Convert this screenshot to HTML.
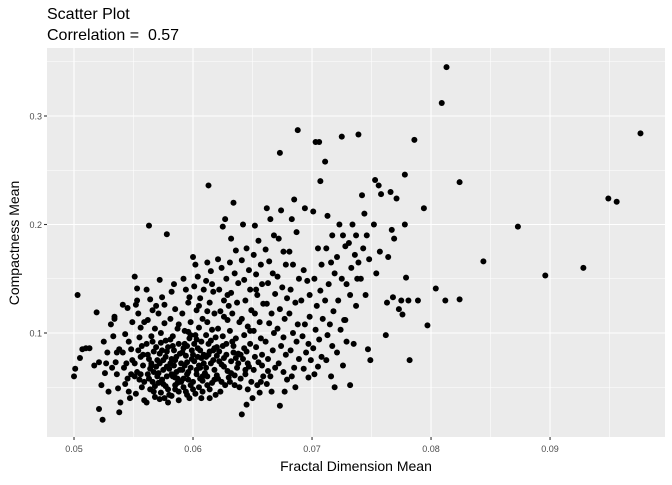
<!DOCTYPE html>
<html><head><meta charset="utf-8"><style>
body{margin:0;background:#fff;}
svg text{font-family:"Liberation Sans",sans-serif;}
</style></head><body>
<svg id="chart" width="672" height="480">
<text x="47" y="19" font-size="16" fill="#000">Scatter Plot</text>
<text x="47" y="40" font-size="16" fill="#000" xml:space="preserve">Correlation =  0.57</text>
<rect x="47" y="48" width="618" height="389" fill="#EBEBEB"/>
<g id="grid"></g>
<g id="pts"></g>
<g id="axes"></g>
<text x="356" y="471" font-size="14" text-anchor="middle" fill="#000">Fractal Dimension Mean</text>
<text transform="translate(19,243) rotate(-90)" font-size="14" text-anchor="middle" fill="#000">Compactness Mean</text>
</svg>
<script>
const xTicks=[0.05,0.06,0.07,0.08,0.09];
const xTickLabels=["0.05","0.06","0.07","0.08","0.09"];
const yTicks=[0.1,0.2,0.3];
const yTickLabels=["0.1","0.2","0.3"];
const xMinor=[0.055,0.065,0.075,0.085,0.095];
const yMinor=[0.05,0.15,0.25,0.35];
const fractalDim=[];const compactness=[];
const raw=`0.0500,0.060 0.0501,0.067 0.0503,0.135 0.0505,0.077 0.0507,0.085 0.0510,0.086 0.0513,0.086
0.0517,0.070 0.0519,0.119 0.0521,0.030 0.0523,0.052 0.0524,0.020 0.0521,0.073 0.0526,0.063 0.0527,0.072 0.0529,0.046 0.0528,0.082 0.0525,0.092
0.0531,0.108 0.0533,0.097 0.0534,0.115 0.0535,0.073 0.0536,0.062 0.0537,0.049 0.0538,0.085 0.0532,0.068 0.0539,0.036 0.0538,0.027 0.0534,0.113 0.0536,0.082
0.0541,0.126 0.0543,0.099 0.0544,0.072 0.0545,0.058 0.0546,0.046 0.0547,0.040 0.0548,0.085 0.0542,0.068 0.0549,0.110 0.0545,0.123 0.0548,0.062 0.0543,0.053 0.0546,0.092 0.0549,0.075 0.0541,0.082
0.0551,0.152 0.0553,0.141 0.0552,0.126 0.0554,0.118 0.0556,0.105 0.0555,0.096 0.0557,0.088 0.0558,0.080 0.0551,0.072 0.0553,0.064 0.0555,0.057 0.0557,0.050 0.0552,0.044 0.0559,0.038 0.0556,0.062 0.0558,0.070 0.0554,0.084 0.0559,0.110 0.0553,0.130 0.0556,0.078 0.0551,0.060 0.0559,0.055
0.0563,0.199 0.0561,0.140 0.0564,0.131 0.0566,0.121 0.0562,0.112 0.0568,0.104 0.0565,0.097 0.0561,0.090 0.0567,0.083 0.0563,0.076 0.0569,0.069 0.0562,0.062 0.0566,0.055 0.0564,0.048 0.0568,0.041 0.0561,0.036 0.0567,0.064 0.0565,0.072 0.0569,0.087 0.0563,0.058 0.0566,0.092 0.0562,0.080 0.0568,0.051 0.0564,0.067 0.0569,0.125
0.0578,0.191 0.0572,0.149 0.0574,0.133 0.0571,0.118 0.0576,0.109 0.0573,0.100 0.0577,0.093 0.0579,0.087 0.0572,0.081 0.0575,0.075 0.0578,0.069 0.0571,0.063 0.0574,0.057 0.0577,0.051 0.0573,0.045 0.0576,0.040 0.0579,0.036 0.0572,0.072 0.0575,0.066 0.0578,0.060 0.0574,0.084 0.0571,0.054 0.0577,0.078 0.0579,0.048 0.0573,0.091 0.0576,0.126
0.0582,0.138 0.0585,0.122 0.0581,0.113 0.0587,0.104 0.0583,0.097 0.0588,0.090 0.0584,0.084 0.0586,0.078 0.0581,0.072 0.0589,0.066 0.0583,0.060 0.0587,0.054 0.0585,0.048 0.0582,0.042 0.0588,0.038 0.0584,0.070 0.0586,0.064 0.0582,0.076 0.0589,0.081 0.0583,0.088 0.0587,0.058 0.0585,0.052 0.0581,0.094 0.0588,0.108 0.0584,0.145
0.0592,0.150 0.0594,0.140 0.0596,0.128 0.0591,0.118 0.0598,0.110 0.0593,0.102 0.0597,0.095 0.0595,0.088 0.0591,0.082 0.0599,0.076 0.0593,0.070 0.0596,0.064 0.0592,0.058 0.0598,0.052 0.0594,0.046 0.0597,0.040 0.0591,0.066 0.0595,0.073 0.0599,0.084 0.0593,0.090 0.0596,0.057 0.0592,0.050 0.0598,0.098 0.0594,0.079 0.0597,0.133
0.0602,0.163 0.0604,0.152 0.0601,0.143 0.0606,0.132 0.0603,0.121 0.0608,0.113 0.0605,0.105 0.0602,0.098 0.0607,0.092 0.0604,0.086 0.0609,0.080 0.0601,0.074 0.0606,0.068 0.0603,0.062 0.0608,0.056 0.0605,0.050 0.0602,0.044 0.0607,0.040 0.0604,0.078 0.0609,0.072 0.0601,0.090 0.0606,0.084 0.0603,0.066 0.0608,0.060 0.0605,0.125 0.0609,0.140 0.0600,0.170
0.0613,0.236 0.0612,0.165 0.0615,0.157 0.0611,0.148 0.0617,0.138 0.0614,0.128 0.0618,0.118 0.0612,0.110 0.0616,0.103 0.0619,0.096 0.0613,0.090 0.0617,0.084 0.0611,0.078 0.0615,0.072 0.0618,0.066 0.0612,0.060 0.0616,0.054 0.0614,0.048 0.0619,0.043 0.0613,0.080 0.0617,0.075 0.0611,0.068 0.0615,0.093 0.0618,0.086 0.0612,0.120 0.0616,0.145
0.0627,0.205 0.0625,0.198 0.0621,0.168 0.0624,0.160 0.0628,0.150 0.0622,0.140 0.0626,0.130 0.0623,0.120 0.0629,0.112 0.0621,0.104 0.0625,0.097 0.0628,0.090 0.0622,0.083 0.0626,0.077 0.0624,0.071 0.0629,0.065 0.0621,0.058 0.0627,0.052 0.0623,0.046 0.0628,0.080 0.0622,0.074 0.0625,0.088 0.0620,0.061 0.0626,0.115 0.0629,0.135
0.0634,0.220 0.0632,0.187 0.0636,0.176 0.0631,0.165 0.0635,0.155 0.0638,0.146 0.0632,0.137 0.0637,0.128 0.0633,0.118 0.0639,0.110 0.0631,0.102 0.0636,0.095 0.0634,0.088 0.0638,0.081 0.0632,0.074 0.0637,0.068 0.0635,0.061 0.0631,0.055 0.0639,0.050 0.0633,0.092 0.0636,0.077 0.0630,0.125
0.0642,0.200 0.0645,0.178 0.0641,0.167 0.0647,0.158 0.0643,0.149 0.0648,0.140 0.0644,0.130 0.0649,0.121 0.0641,0.113 0.0646,0.106 0.0643,0.098 0.0648,0.090 0.0645,0.083 0.0642,0.076 0.0647,0.069 0.0644,0.062 0.0649,0.055 0.0646,0.048 0.0641,0.025 0.0645,0.034 0.0648,0.102 0.0643,0.086
0.0652,0.199 0.0655,0.185 0.0651,0.172 0.0657,0.163 0.0653,0.154 0.0658,0.145 0.0654,0.135 0.0659,0.127 0.0652,0.118 0.0656,0.110 0.0651,0.102 0.0657,0.095 0.0653,0.087 0.0658,0.080 0.0655,0.073 0.0651,0.066 0.0659,0.060 0.0654,0.052 0.0656,0.045 0.0650,0.040 0.0653,0.140
0.0662,0.215 0.0665,0.205 0.0668,0.190 0.0661,0.177 0.0664,0.166 0.0667,0.155 0.0663,0.146 0.0669,0.136 0.0662,0.127 0.0666,0.118 0.0664,0.109 0.0668,0.100 0.0661,0.092 0.0667,0.084 0.0663,0.076 0.0669,0.068 0.0665,0.060 0.0662,0.053 0.0666,0.046
0.0673,0.266 0.0674,0.213 0.0672,0.187 0.0676,0.175 0.0678,0.163 0.0671,0.152 0.0675,0.142 0.0679,0.132 0.0673,0.122 0.0677,0.113 0.0671,0.104 0.0676,0.096 0.0674,0.088 0.0678,0.080 0.0672,0.072 0.0676,0.064 0.0679,0.057 0.0673,0.033 0.0677,0.046
0.0688,0.287 0.0685,0.223 0.0683,0.205 0.0687,0.193 0.0681,0.175 0.0684,0.163 0.0689,0.150 0.0682,0.140 0.0686,0.128 0.0681,0.118 0.0688,0.108 0.0684,0.100 0.0687,0.092 0.0682,0.084 0.0689,0.076 0.0685,0.068 0.0683,0.060 0.0686,0.050
0.0693,0.158 0.0696,0.148 0.0691,0.130 0.0698,0.115 0.0694,0.108 0.0692,0.097 0.0697,0.090 0.0695,0.082 0.0699,0.075 0.0693,0.067 0.0697,0.059 0.0694,0.215 0.0698,0.135
0.0703,0.276 0.0706,0.276 0.0701,0.212 0.0705,0.178 0.0708,0.163 0.0702,0.150 0.0707,0.139 0.0704,0.125 0.0709,0.113 0.0703,0.103 0.0706,0.094 0.0701,0.086 0.0708,0.078 0.0705,0.069 0.0702,0.062 0.0707,0.240
0.0711,0.258 0.0713,0.208 0.0717,0.190 0.0712,0.178 0.0716,0.165 0.0719,0.155 0.0714,0.145 0.0711,0.130 0.0718,0.120 0.0715,0.108 0.0713,0.098 0.0717,0.088 0.0712,0.075 0.0716,0.060 0.0719,0.050
0.0723,0.200 0.0726,0.190 0.0728,0.180 0.0721,0.170 0.0725,0.150 0.0729,0.145 0.0722,0.130 0.0727,0.112 0.0724,0.103 0.0729,0.092 0.0721,0.082 0.0726,0.070 0.0728,0.112 0.0725,0.281
0.0734,0.200 0.0737,0.190 0.0731,0.183 0.0736,0.172 0.0739,0.165 0.0733,0.160 0.0738,0.150 0.0732,0.135 0.0735,0.090 0.0739,0.283 0.0732,0.052 0.0737,0.125
0.0742,0.227 0.0744,0.210 0.0746,0.190 0.0743,0.178 0.0748,0.168 0.0741,0.150 0.0745,0.135 0.0747,0.085 0.0749,0.075
0.0753,0.241 0.0756,0.236 0.0758,0.228 0.0752,0.200 0.0757,0.175 0.0754,0.155
0.0762,0.098 0.0764,0.170 0.0767,0.195 0.0769,0.187 0.0766,0.230 0.0768,0.133 0.0763,0.128
0.0771,0.224 0.0775,0.130 0.0778,0.246 0.0773,0.122 0.0776,0.117 0.0779,0.151 0.0778,0.200 0.0781,0.130 0.0782,0.075
0.0786,0.278 0.0789,0.130 0.0794,0.215 0.0797,0.107 0.0804,0.141 0.0809,0.312 0.0812,0.130 0.0813,0.345 0.0824,0.131 0.0824,0.239 0.0844,0.166 0.0873,0.198 0.0896,0.153 0.0928,0.160 0.0949,0.224 0.0956,0.221 0.0976,0.284
0.0565,0.070 0.0570,0.060 0.0575,0.053 0.0580,0.067 0.0585,0.059 0.0590,0.072 0.0595,0.062 0.0600,0.055 0.0605,0.070 0.0610,0.063 0.0567,0.046 0.0572,0.039 0.0580,0.043 0.0588,0.046 0.0595,0.043 0.0600,0.048 0.0608,0.046 0.0614,0.040
0.0570,0.075 0.0578,0.083 0.0585,0.075 0.0592,0.086 0.0600,0.080 0.0607,0.077 0.0614,0.083 0.0620,0.079 0.0626,0.069 0.0632,0.063 0.0638,0.072 0.0644,0.066 0.0640,0.080 0.0634,0.082 0.0620,0.087 0.0611,0.098 0.0603,0.094 0.0596,0.101
0.0582,0.062 0.0590,0.055 0.0598,0.068 0.0606,0.058 0.0612,0.052 0.0618,0.057 0.0624,0.055 0.0630,0.059 0.0635,0.052 0.0640,0.058 0.0646,0.072 0.0652,0.078 0.0658,0.070 0.0663,0.065 0.0657,0.055</pre>`.replace('</pre>','');
raw.trim().split(/\s+/).forEach(p=>{const a=p.split(',');if(a.length<2)return;fractalDim.push(+a[0]);compactness.push(+a[1]);});

const L=47,R=665,T=48,B=437;
const xMin=0.04773,xMax=0.09966,yMin=0.00415,yMax=0.36267;
const sx=v=>L+(v-xMin)/(xMax-xMin)*(R-L);
const sy=v=>B-(v-yMin)/(yMax-yMin)*(B-T);
const NS="http://www.w3.org/2000/svg";
function mk(tag,attrs,parent){const e=document.createElementNS(NS,tag);for(const k in attrs)e.setAttribute(k,attrs[k]);parent.appendChild(e);return e;}
const grid=document.getElementById('grid'),axes=document.getElementById('axes'),pts=document.getElementById('pts');
xMinor.forEach(v=>{const e=mk('line',{x1:sx(v),x2:sx(v),y1:T,y2:B,stroke:'#fff','stroke-width':0.55},grid);

});
yMinor.forEach(v=>{if(sy(v)<T)return;const e=mk('line',{x1:L,x2:R,y1:sy(v),y2:sy(v),stroke:'#fff','stroke-width':0.55},grid);

});
xTicks.forEach((v,i)=>{const x=sx(v);
const g=mk('line',{x1:x,x2:x,y1:T,y2:B,stroke:'#fff','stroke-width':1.1},grid);


const t=mk('line',{x1:x,x2:x,y1:B,y2:B+3,stroke:'#333','stroke-width':1.1},axes);


const l=mk('text',{x:x,y:B+15,'font-size':9,'text-anchor':'middle',fill:'#4d4d4d'},axes);l.textContent=xTickLabels[i];

});
yTicks.forEach((v,i)=>{const y=sy(v);
const g=mk('line',{x1:L,x2:R,y1:y,y2:y,stroke:'#fff','stroke-width':1.1},grid);


const t=mk('line',{x1:L-3,x2:L,y1:y,y2:y,stroke:'#333','stroke-width':1.1},axes);


const l=mk('text',{x:L-5,y:y+3.5,'font-size':9,'text-anchor':'end',fill:'#4d4d4d'},axes);l.textContent=yTickLabels[i];

});
fractalDim.forEach((v,i)=>{const c=mk('circle',{cx:sx(v),cy:sy(compactness[i]),r:3,fill:'#000'},pts);

});
</script>
</body></html>
